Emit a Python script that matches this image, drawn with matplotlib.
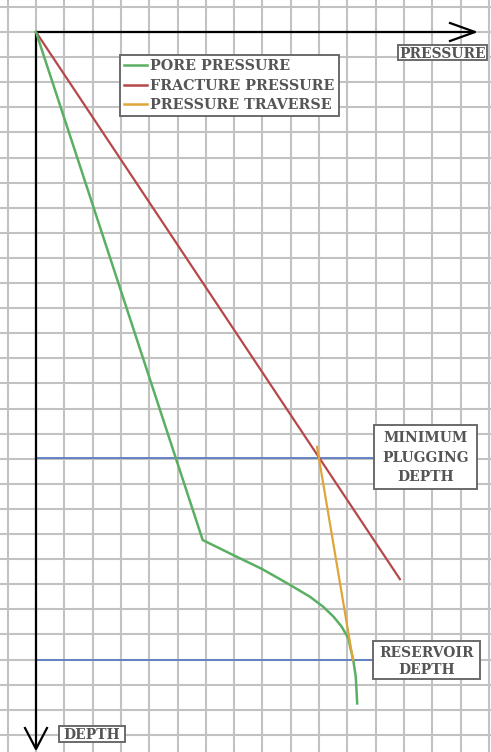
import matplotlib
matplotlib.use("Agg")
import matplotlib.pyplot as plt
from matplotlib.lines import Line2D
from matplotlib.patches import Rectangle

# ---- data (grid units: pressure to the right, depth downward) ----
pore_x = [0.0, 5.89, 6.97, 7.98, 8.98, 9.68, 10.15, 10.51, 10.80, 11.04, 11.10, 11.21, 11.30, 11.35]
pore_y = [0.0, 20.24, 20.84, 21.39, 22.03, 22.50, 22.90, 23.29, 23.69, 24.16, 24.49, 25.02, 25.69, 26.75]
frac_x = [0.0, 12.86]
frac_y = [0.0, 21.8]
trav_x = [9.93, 11.2]
trav_y = [16.53, 25.02]
min_plug_depth = 16.97
reservoir_depth = 25.02
depth_line_end = 11.95
legend_labels = ["PORE PRESSURE", "FRACTURE PRESSURE", "PRESSURE TRAVERSE"]

C_PORE = "#5aaf63"
C_FRAC = "#b5484a"
C_TRAV = "#e0a53a"
C_BLUE = "#5b7cc2"
C_GRID = "#c2c2c2"
C_TEXT = "#555555"
C_EDGE = "#6a6a6a"
FONT = "DejaVu Serif"
FS = 10.0

W, H = 491, 752
fig = plt.figure(figsize=(W / 100, H / 100), dpi=100)
ax = fig.add_axes([0, 0, 1, 1])
ox, oy, sx, sy = 36.0, 32.0, 28.3, 25.1


def gx(p):
    return (p - ox) / sx


def gy(p):
    return (p - oy) / sy


ax.set_xlim(gx(0), gx(W))
ax.set_ylim(gy(H), gy(0))
ax.axis("off")

# background grid
for v in range(-1, 17):
    ax.axvline(v, color=C_GRID, lw=1.5, zorder=0)
for h in range(-1, 29):
    ax.axhline(h, color=C_GRID, lw=1.5, zorder=0)

# axes with open arrowheads
x_end = gx(475)
y_end = gy(749)
ax.plot([0, x_end], [0, 0], color="black", lw=1.6, zorder=3, solid_capstyle="butt")
ax.plot([0, 0], [0, y_end], color="black", lw=1.6, zorder=3, solid_capstyle="butt")
hl_x, hw_x = 25 / sx, 9 / sy
ax.plot([x_end - hl_x, x_end, x_end - hl_x], [-hw_x, 0, hw_x], color="black", lw=1.6, zorder=3)
hl_y, hw_y = 21 / sy, 11 / sx
ax.plot([-hw_y, 0, hw_y], [y_end - hl_y, y_end, y_end - hl_y], color="black", lw=1.6, zorder=3)

# depth reference lines
ax.plot([0, depth_line_end], [min_plug_depth, min_plug_depth], color=C_BLUE, lw=1.3, zorder=2)
ax.plot([0, depth_line_end], [reservoir_depth, reservoir_depth], color=C_BLUE, lw=1.3, zorder=2)

# curves
ax.plot(frac_x, frac_y, color=C_FRAC, lw=1.6, zorder=4)
ax.plot(pore_x, pore_y, color=C_PORE, lw=1.8, zorder=4, solid_joinstyle="round")
ax.plot(trav_x, trav_y, color=C_TRAV, lw=1.6, zorder=4)


def label_box(x0, y0, x1, y1, lines, centers, fs=FS):
    ax.add_patch(Rectangle((gx(x0), gy(y0)), gx(x1) - gx(x0), gy(y1) - gy(y0),
                           fc="white", ec=C_EDGE, lw=1.4, zorder=5))
    cap = 0.73 * fs * 100 / 72
    xc = (x0 + x1) / 2
    for txt, yc in zip(lines, centers):
        ax.text(gx(xc), gy(yc + cap / 2), txt, ha="center", va="baseline", fontsize=fs,
                family=FONT, weight="bold", color=C_TEXT, zorder=6)


label_box(398, 45, 487, 60, ["PRESSURE"], [52.5])
label_box(59, 726, 125, 742, ["DEPTH"], [734])
label_box(374, 425, 477, 489, ["MINIMUM", "PLUGGING", "DEPTH"], [436.5, 457, 476])
label_box(373, 641, 480, 679, ["RESERVOIR", "DEPTH"], [652, 668.5])

handles = [Line2D([], [], color=C_PORE, lw=1.8),
           Line2D([], [], color=C_FRAC, lw=1.8),
           Line2D([], [], color=C_TRAV, lw=1.8)]
leg = ax.legend(handles, legend_labels, loc="upper left", bbox_to_anchor=(120 / W, 1 - 55 / H),
                borderaxespad=0, frameon=True, fancybox=False, handlelength=1.6, handletextpad=0.2,
                borderpad=0.3, labelspacing=0.37,
                prop=dict(family=FONT, weight="bold", size=10.3))
leg.get_frame().set_edgecolor(C_EDGE)
leg.get_frame().set_linewidth(1.4)
leg.get_frame().set_alpha(1)
for t in leg.get_texts():
    t.set_color(C_TEXT)
leg.set_zorder(6)

fig.savefig("out.png", dpi=100)
